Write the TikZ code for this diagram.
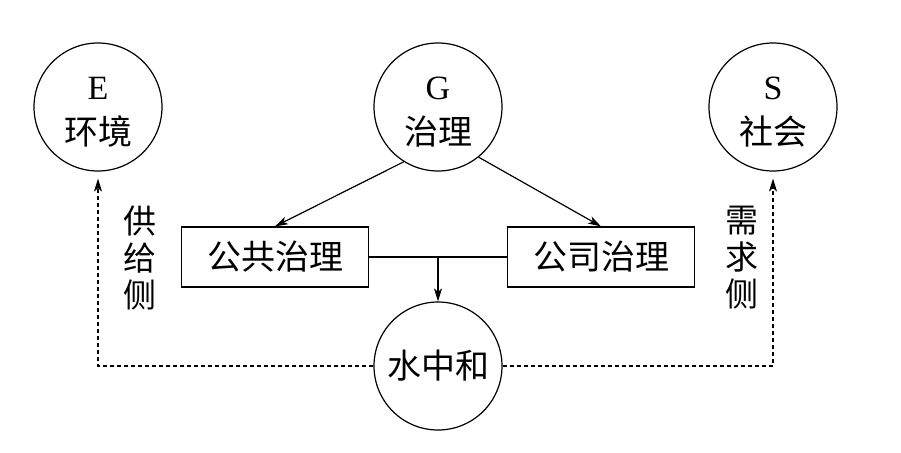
\documentclass[tikz,border=0pt]{standalone}
\usepackage{fontspec}
\setmainfont{Liberation Serif}
\newfontfamily\cjk{Noto Sans CJK SC}
\usetikzlibrary{arrows.meta}

\begin{document}
\begin{tikzpicture}[x=1pt, y=-1pt, >={Stealth[length=13pt, width=8pt, inset=3.5pt]}]
    \tikzstyle{pillar}=[draw, circle, line width=1.2pt, minimum size=128pt, inner sep=0pt, align=center, font=\fontsize{34}{45}\selectfont, text height=79pt, text depth=4pt]
    \tikzstyle{gov}=[draw, rectangle, line width=1.2pt, minimum width=187pt, minimum height=60pt, font=\cjk\fontsize{34}{40}\selectfont]
    \tikzstyle{side}=[align=center, font=\cjk\fontsize{33}{37}\selectfont]
    \tikzstyle{link}=[line width=1.2pt]
    \tikzstyle{flow}=[line width=1.2pt, dash pattern=on 4pt off 3pt]

    \useasboundingbox (0, 0) rectangle (901, 452);

    % ESG
    \node[pillar] (E) at (98, 107) {E\\{\cjk 环境}};
    \node[pillar] (G) at (438, 107) {G\\{\cjk 治理}};
    \node[pillar] (S) at (773, 107) {S\\{\cjk 社会}};

    % Governance
    \node[gov] (pub) at (275, 257) {公共治理};
    \node[gov] (corp) at (601, 257) {公司治理};

    % Water neutrality
    \node[draw, circle, line width=1.2pt, minimum size=128pt, inner sep=0pt, font=\cjk\fontsize{34}{40}\selectfont] (W) at (438, 366) {水中和};

    % Sides
    \node[side] (supply) at (140, 258) {供\\给\\侧};
    \node[side] (demand) at (742, 258) {需\\求\\侧};

    % Connections
    \draw[link, ->] (G.238) -- (pub.north);
    \draw[link, ->] (G.309) -- (corp.north);
    \draw[link] (pub.east) -- (corp.west);
    \coordinate (join) at (pub.east -| W.north);
    \draw[link, ->] (join) -- (W.north);

    \draw[flow, ->, shorten >=7pt] (W.west) -| (E.south);
    \draw[flow, ->, shorten >=7pt] (W.east) -| (S.south);
\end{tikzpicture}
\end{document}
